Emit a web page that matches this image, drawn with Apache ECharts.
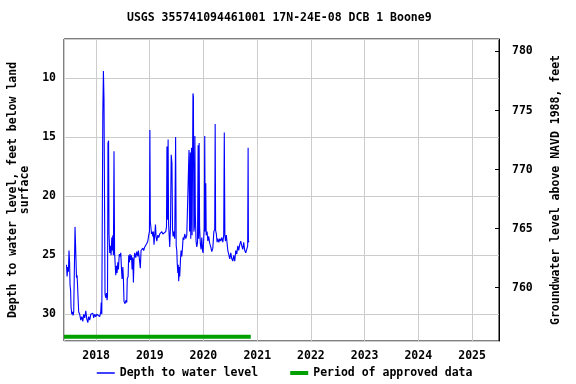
<!DOCTYPE html>
<html>
<head>
<meta charset="utf-8">
<script src="https://cdn.jsdelivr.net/npm/echarts@6/dist/echarts.min.js"></script>
<style>html,body{margin:0;padding:0;background:#fff}#c{width:576px;height:384px}</style>
</head>
<body>
<div id="c"></div>
<script>
var titleText = 'USGS 355741094461001 17N-24E-08 DCB 1 Boone9';
var leftAxisName = 'Depth to water level, feet below land\nsurface';
var rightAxisName = 'Groundwater level above NAVD 1988, feet';
var seriesNames = ['Depth to water level', 'Period of approved data'];
var xRange = ['2017-05-28', '2025-07-03'];
var depthRange = [6.695, 32.26];
var datumOffset = 787.75; // elevation = datumOffset - depth
var approvedPeriod = ['2017-05-28', '2020-11-18'];
var approvedLevel = 31.9;

var obsDates = [
'2017-06-14','2017-06-18','2017-06-23','2017-06-27','2017-07-01','2017-07-05','2017-07-08','2017-07-12','2017-07-15','2017-07-20',
'2017-07-25','2017-07-29','2017-08-02','2017-08-07','2017-08-11','2017-08-16','2017-08-21','2017-08-25','2017-08-28','2017-09-01',
'2017-09-05','2017-09-12','2017-09-19','2017-09-26','2017-10-03','2017-10-09','2017-10-16','2017-10-23','2017-10-30','2017-11-06',
'2017-11-12','2017-11-19','2017-11-26','2017-12-03','2017-12-10','2017-12-16','2017-12-23','2017-12-30',
'2018-01-06','2018-01-13','2018-01-19','2018-01-26','2018-02-02','2018-02-05','2018-02-09','2018-02-14','2018-02-16','2018-02-20',
'2018-02-24','2018-02-28','2018-03-03','2018-03-08','2018-03-13','2018-03-17','2018-03-20','2018-03-23','2018-03-27','2018-03-30',
'2018-04-04','2018-04-09','2018-04-13','2018-04-18','2018-04-21','2018-04-25','2018-04-29','2018-05-03','2018-05-07','2018-05-12',
'2018-05-15','2018-05-20','2018-05-24','2018-05-29','2018-06-02','2018-06-08','2018-06-13','2018-06-18','2018-06-23','2018-06-27',
'2018-07-02','2018-07-06','2018-07-10','2018-07-17','2018-07-24','2018-07-29','2018-08-01','2018-08-07','2018-08-11','2018-08-16',
'2018-08-20','2018-08-25','2018-08-30','2018-09-03','2018-09-08','2018-09-12','2018-09-16','2018-09-21','2018-09-28','2018-10-05',
'2018-10-12','2018-10-16','2018-10-20','2018-10-25','2018-10-29','2018-11-03','2018-11-08','2018-11-15','2018-11-21','2018-11-28',
'2018-12-05','2018-12-12','2018-12-19','2018-12-25','2018-12-30',
'2019-01-02','2019-01-05','2019-01-08','2019-01-13','2019-01-17','2019-01-22','2019-01-26','2019-01-30','2019-02-04','2019-02-09',
'2019-02-13','2019-02-18','2019-02-25','2019-03-03','2019-03-10','2019-03-17','2019-03-24','2019-03-31','2019-04-06','2019-04-13',
'2019-04-20','2019-04-25','2019-04-28','2019-05-01','2019-05-06','2019-05-09','2019-05-12','2019-05-17','2019-05-22','2019-05-27',
'2019-06-01','2019-06-05','2019-06-09','2019-06-13','2019-06-20','2019-06-26','2019-06-30','2019-07-04','2019-07-07','2019-07-11',
'2019-07-14','2019-07-17','2019-07-21','2019-07-24','2019-07-29','2019-08-02','2019-08-07','2019-08-12','2019-08-16','2019-08-21',
'2019-08-27','2019-09-03','2019-09-10','2019-09-17','2019-09-23','2019-09-25','2019-09-29','2019-10-04','2019-10-07','2019-10-12',
'2019-10-16','2019-10-22','2019-10-25','2019-10-28','2019-11-01','2019-11-04','2019-11-07','2019-11-12','2019-11-17','2019-11-22',
'2019-11-26','2019-11-30','2019-12-03','2019-12-06','2019-12-11','2019-12-16','2019-12-21','2019-12-26','2019-12-30',
'2020-01-03','2020-01-07','2020-01-10','2020-01-13','2020-01-17','2020-01-20','2020-01-26','2020-01-31','2020-02-06','2020-02-13',
'2020-02-20','2020-02-27','2020-03-05','2020-03-12','2020-03-18','2020-03-21','2020-03-24','2020-03-29','2020-04-03','2020-04-08',
'2020-04-15','2020-04-21','2020-04-28','2020-05-05','2020-05-12','2020-05-18','2020-05-22','2020-05-26','2020-05-30','2020-06-05',
'2020-06-10','2020-06-15','2020-06-21','2020-06-28','2020-07-05','2020-07-12','2020-07-19','2020-07-25','2020-08-01','2020-08-08',
'2020-08-15','2020-08-22','2020-08-28','2020-09-04','2020-09-11','2020-09-18','2020-09-25','2020-10-01','2020-10-08','2020-10-15',
'2020-10-22','2020-10-28','2020-10-31','2020-11-02','2020-11-06'
];
var depthFt = [
25.8,26.8,26.0,26.4,24.6,25.6,27.5,28.0,29.4,30.0,
29.8,30.1,29.8,29.9,22.6,22.7,26.9,26.7,27.5,28.7,
29.8,30.0,30.5,30.2,30.6,30.0,30.3,29.7,30.4,30.7,
30.2,30.5,30.0,30.1,29.9,30.3,30.0,30.2,
30.0,30.1,29.9,30.2,29.8,29.0,30.0,30.1,13.0,9.4,
11.8,11.8,28.3,28.6,28.2,28.8,28.4,15.5,15.3,23.2,
24.8,24.2,25.0,23.5,24.6,23.3,25.0,16.2,24.8,26.0,
26.7,25.9,26.5,25.6,26.2,24.9,25.1,24.8,26.2,27.0,
26.0,27.0,28.9,29.1,28.8,29.0,27.0,26.8,25.0,25.6,
24.9,25.4,25.0,26.2,25.2,27.3,25.4,24.8,25.2,24.7,
25.1,24.6,25.0,24.9,26.1,24.6,24.5,24.4,24.6,24.3,
24.2,24.0,23.8,23.3,23.0,
14.4,22.2,22.5,23.2,23.0,23.4,23.0,24.1,23.3,22.4,
23.4,23.8,23.3,23.5,23.2,23.3,23.0,23.2,23.1,23.3,
23.0,22.6,15.8,22.0,15.2,22.3,22.3,24.3,22.6,16.5,
17.2,22.8,23.4,23.0,23.6,15.0,24.2,24.6,25.7,26.5,
25.8,27.2,26.0,26.8,25.4,24.6,25.1,24.3,23.5,23.7,
23.2,23.6,23.3,23.4,23.2,16.1,23.0,16.3,23.6,15.9,
23.3,11.3,11.6,23.0,22.6,14.9,21.5,23.8,24.3,23.9,
15.7,23.6,15.5,22.6,24.0,24.5,23.5,24.6,24.8,
23.6,22.7,14.9,23.0,18.9,23.3,23.0,23.8,23.4,24.0,
24.3,24.7,24.4,23.0,22.8,13.9,22.9,23.2,23.9,23.6,
23.9,23.6,23.8,23.5,23.9,23.3,14.6,23.3,23.8,23.3,
24.0,24.6,24.9,25.3,24.8,25.3,25.5,25.0,25.5,24.6,
24.9,24.2,24.6,24.1,23.8,24.2,24.5,23.9,24.6,24.8,
24.7,24.2,15.9,23.9,23.8
];

var FONT = 'DejaVu Sans Mono';
var txt = { fontFamily: FONT, fontWeight: 'bold', fontSize: 11.5, color: '#000' };

var depthData = obsDates.map(function (d, i) { return [d, depthFt[i]]; });
var approvedData = [[approvedPeriod[0], approvedLevel], [approvedPeriod[1], approvedLevel]];

var chart = echarts.init(document.getElementById('c'), null, { renderer: 'canvas' });
chart.setOption({
  animation: false,
  backgroundColor: '#fff',
  title: {
    text: titleText, left: 127, top: 12, padding: 0,
    textStyle: Object.assign({}, txt)
  },
  grid: {
    left: 64, right: 77, top: 39, bottom: 43,
    outerBoundsMode: 'none', containLabel: false,
    show: true, borderColor: '#000', borderWidth: 1, backgroundColor: 'transparent'
  },
  legend: {
    left: 96, top: 367, itemWidth: 18, itemHeight: 10, itemGap: 30, padding: 0,
    itemStyle: { opacity: 0 },
    lineStyle: { width: 'inherit' },
    textStyle: Object.assign({}, txt),
    data: [
      { name: seriesNames[0], lineStyle: { width: 1.5 } },
      { name: seriesNames[1], lineStyle: { width: 4 } }
    ]
  },
  xAxis: {
    type: 'time',
    min: xRange[0], max: xRange[1],
    minInterval: 365 * 86400000, maxInterval: 366 * 86400000,
    axisLine: { show: false },
    axisTick: { show: false },
    splitLine: { show: true, lineStyle: { color: '#cccccc', width: 1 } },
    axisLabel: Object.assign({}, txt, {
      margin: 9, showMinLabel: false, showMaxLabel: false,
      formatter: function (v) {
        var d = new Date(v);
        return (d.getMonth() === 0 && d.getDate() === 1) ? String(d.getFullYear()) : '';
      }
    })
  },
  yAxis: [{
    type: 'value', inverse: true,
    min: depthRange[0], max: depthRange[1],
    name: leftAxisName, nameLocation: 'middle', nameRotate: 90, nameGap: 31,
    nameTextStyle: Object.assign({}, txt, { lineHeight: 12 }),
    axisLine: { show: false },
    axisTick: { show: false },
    splitLine: { show: true, lineStyle: { color: '#cccccc', width: 1 } },
    axisLabel: Object.assign({}, txt, { margin: 8, showMinLabel: false, showMaxLabel: false })
  }, {
    type: 'value', position: 'right',
    min: datumOffset - depthRange[1], max: datumOffset - depthRange[0],
    name: rightAxisName, nameLocation: 'middle', nameRotate: 90, nameGap: 51,
    nameTextStyle: Object.assign({}, txt),
    axisLine: { show: true, lineStyle: { color: '#000', width: 1 } },
    axisTick: { show: true, inside: true, length: 4, lineStyle: { color: '#000' } },
    splitLine: { show: false },
    axisLabel: Object.assign({}, txt, { margin: 13, showMinLabel: false, showMaxLabel: false })
  }],
  series: [{
    name: seriesNames[0], type: 'line', yAxisIndex: 0,
    data: depthData, symbol: 'none', smooth: false,
    lineStyle: { color: '#0000ff', width: 1.1 }, itemStyle: { color: '#0000ff' }
  }, {
    name: seriesNames[1], type: 'line', yAxisIndex: 0,
    data: approvedData, symbol: 'none',
    lineStyle: { color: '#00a000', width: 4 }, itemStyle: { color: '#00a000' }
  }]
});
</script>
</body>
</html>
